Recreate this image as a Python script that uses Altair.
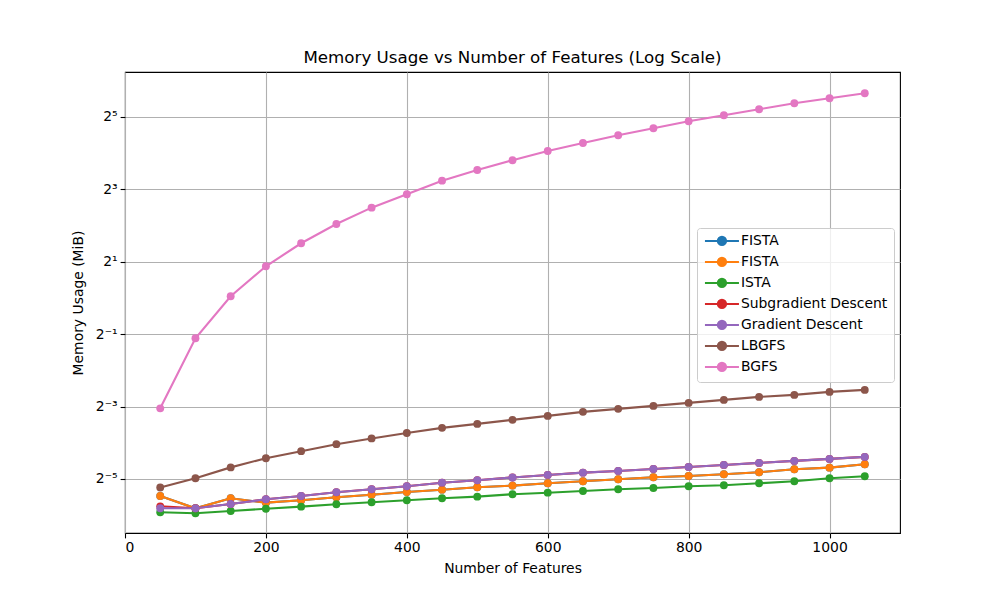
import altair as alt
import pandas as pd

features = [50, 100, 150, 200, 250, 300, 350, 400, 450, 500, 550,
            600, 650, 700, 750, 800, 850, 900, 950, 1000, 1050]

names = ["FISTA", "FISTA", "ISTA", "Subgradient Descent",
         "Gradient Descent", "LBGFS", "BGFS"]
keys = ["s1", "s2", "s3", "s4", "s5", "s6", "s7"]
colors = ["#1f77b4", "#ff7f0e", "#2ca02c", "#d62728",
          "#9467bd", "#8c564b", "#e377c2"]

fista = [0.02256, 0.01782, 0.02157, 0.01984, 0.02078, 0.02200, 0.02312,
         0.02435, 0.02544, 0.02666, 0.02751, 0.02877, 0.02990, 0.03107,
         0.03228, 0.03309, 0.03419, 0.03552, 0.03763, 0.03881, 0.04143]
fista2 = list(fista)
ista = [0.01650, 0.01618, 0.01691, 0.01768, 0.01838, 0.01924, 0.02000,
        0.02078, 0.02157, 0.02226, 0.02331, 0.02402, 0.02482, 0.02566,
        0.02629, 0.02717, 0.02770, 0.02877, 0.02990, 0.03167, 0.03291]
subgrad = [0.01850, 0.01782, 0.01934, 0.02116, 0.02256, 0.02421, 0.02566,
           0.02717, 0.02909, 0.03047, 0.03216, 0.03375, 0.03525, 0.03643,
           0.03785, 0.03933, 0.04087, 0.04248, 0.04414, 0.04586, 0.04765]
graddesc = [0.01782, 0.01782, 0.01934, 0.02116, 0.02256, 0.02421, 0.02566,
            0.02717, 0.02909, 0.03047, 0.03216, 0.03375, 0.03525, 0.03643,
            0.03785, 0.03933, 0.04087, 0.04248, 0.04414, 0.04586, 0.04765]
lbgfs = [0.0265, 0.0317, 0.0390, 0.0465, 0.0532, 0.0608, 0.0679, 0.0754,
         0.0831, 0.0897, 0.0969, 0.1045, 0.1129, 0.1196, 0.1266, 0.1340,
         0.1420, 0.1504, 0.1563, 0.1655, 0.1719]
bgfs = [0.1208, 0.462, 1.033, 1.835, 2.850, 4.124, 5.634, 7.285, 9.449,
        11.60, 13.97, 16.69, 19.45, 22.54, 25.78, 29.47, 33.07, 37.09,
        41.59, 45.79, 50.39]

series = [fista, fista2, ista, subgrad, graddesc, lbgfs, bgfs]

y_ticks = [2 ** -5, 2 ** -3, 2 ** -1, 2, 8, 32]
y_tick_labels = ["2⁻⁵", "2⁻³", "2⁻¹", "2¹", "2³", "2⁵"]
x_ticks = [0, 200, 400, 600, 800, 1000]

rows = []
for k, vals in zip(keys, series):
    for x, v in zip(features, vals):
        rows.append({"features": x, "mem": v, "key": k})
df = pd.DataFrame(rows)

ylabel_expr = " : ".join(
    f"datum.value > {v * 0.99} && datum.value < {v * 1.01} ? '{l}'"
    for v, l in zip(y_ticks, y_tick_labels)
) + " : ''"
legend_expr = " : ".join(
    f"datum.label == '{k}' ? '{n}'" for k, n in zip(keys, names)
) + " : ''"

FONT = "DejaVu Sans"

sym_path = ("M-1,0H5.8M1.57,0A0.83,0.83,0,1,1,3.23,0"
            "A0.83,0.83,0,1,1,1.57,0Z")

color = alt.Color(
    "key:N",
    scale=alt.Scale(domain=keys, range=colors),
    legend=alt.Legend(
        title=None,
        orient="none",
        legendX=572,
        legendY=156,
        labelExpr=legend_expr,
        symbolType=sym_path,
        symbolSize=100,
        symbolStrokeWidth=2,
        labelOffset=24,
        labelFont=FONT,
        labelFontSize=13.9,
        labelColor="black",
        rowPadding=3,
        padding=6,
        fillColor="rgba(255,255,255,0.8)",
        strokeColor="#cccccc",
        cornerRadius=3,
    ),
)

xenc = alt.X(
    "features:Q",
    scale=alt.Scale(domain=[0, 1100], nice=False, zero=False),
    axis=alt.Axis(values=x_ticks, title="Number of Features", format="d"),
)
yenc = alt.Y(
    "mem:Q",
    scale=alt.Scale(type="log", base=2, domain=[0.01110, 75.7], nice=False),
    axis=alt.Axis(values=y_ticks, labelExpr=ylabel_expr,
                  title="Memory Usage (MiB)"),
)

base = alt.Chart(df).encode(x=xenc, y=yenc, color=color)

layers = []
for k in keys:
    sub = base.transform_filter(alt.datum.key == k)
    layers.append(sub.mark_line(strokeWidth=2.1))
    layers.append(sub.mark_circle(size=62, opacity=1))

chart = alt.layer(*layers).properties(
    width=775,
    height=461,
    title=alt.Title(
        "Memory Usage vs Number of Features (Log Scale)",
        font=FONT, fontSize=16.7, fontWeight="normal", color="black",
        offset=5,
    ),
    autosize=alt.AutoSizeParams(type="none"),
    padding={"left": 117, "top": 64, "right": 92, "bottom": 59},
).configure_view(
    stroke="black", strokeWidth=1.1
).configure_axis(
    labelFont=FONT, labelFontSize=13.9, labelColor="black",
    titleFont=FONT, titleFontSize=13.9, titleColor="black",
    titleFontWeight="normal",
    grid=True, gridColor="#b0b0b0", gridWidth=1.1,
    domain=False, tickColor="black", tickWidth=1.1, tickSize=4.9,
    labelPadding=3,
).configure_axisX(
    titlePadding=7,
).configure_axisY(
    titlePadding=10,
)

chart.save("out.html", embed_options={"renderer": "svg", "actions": False})
